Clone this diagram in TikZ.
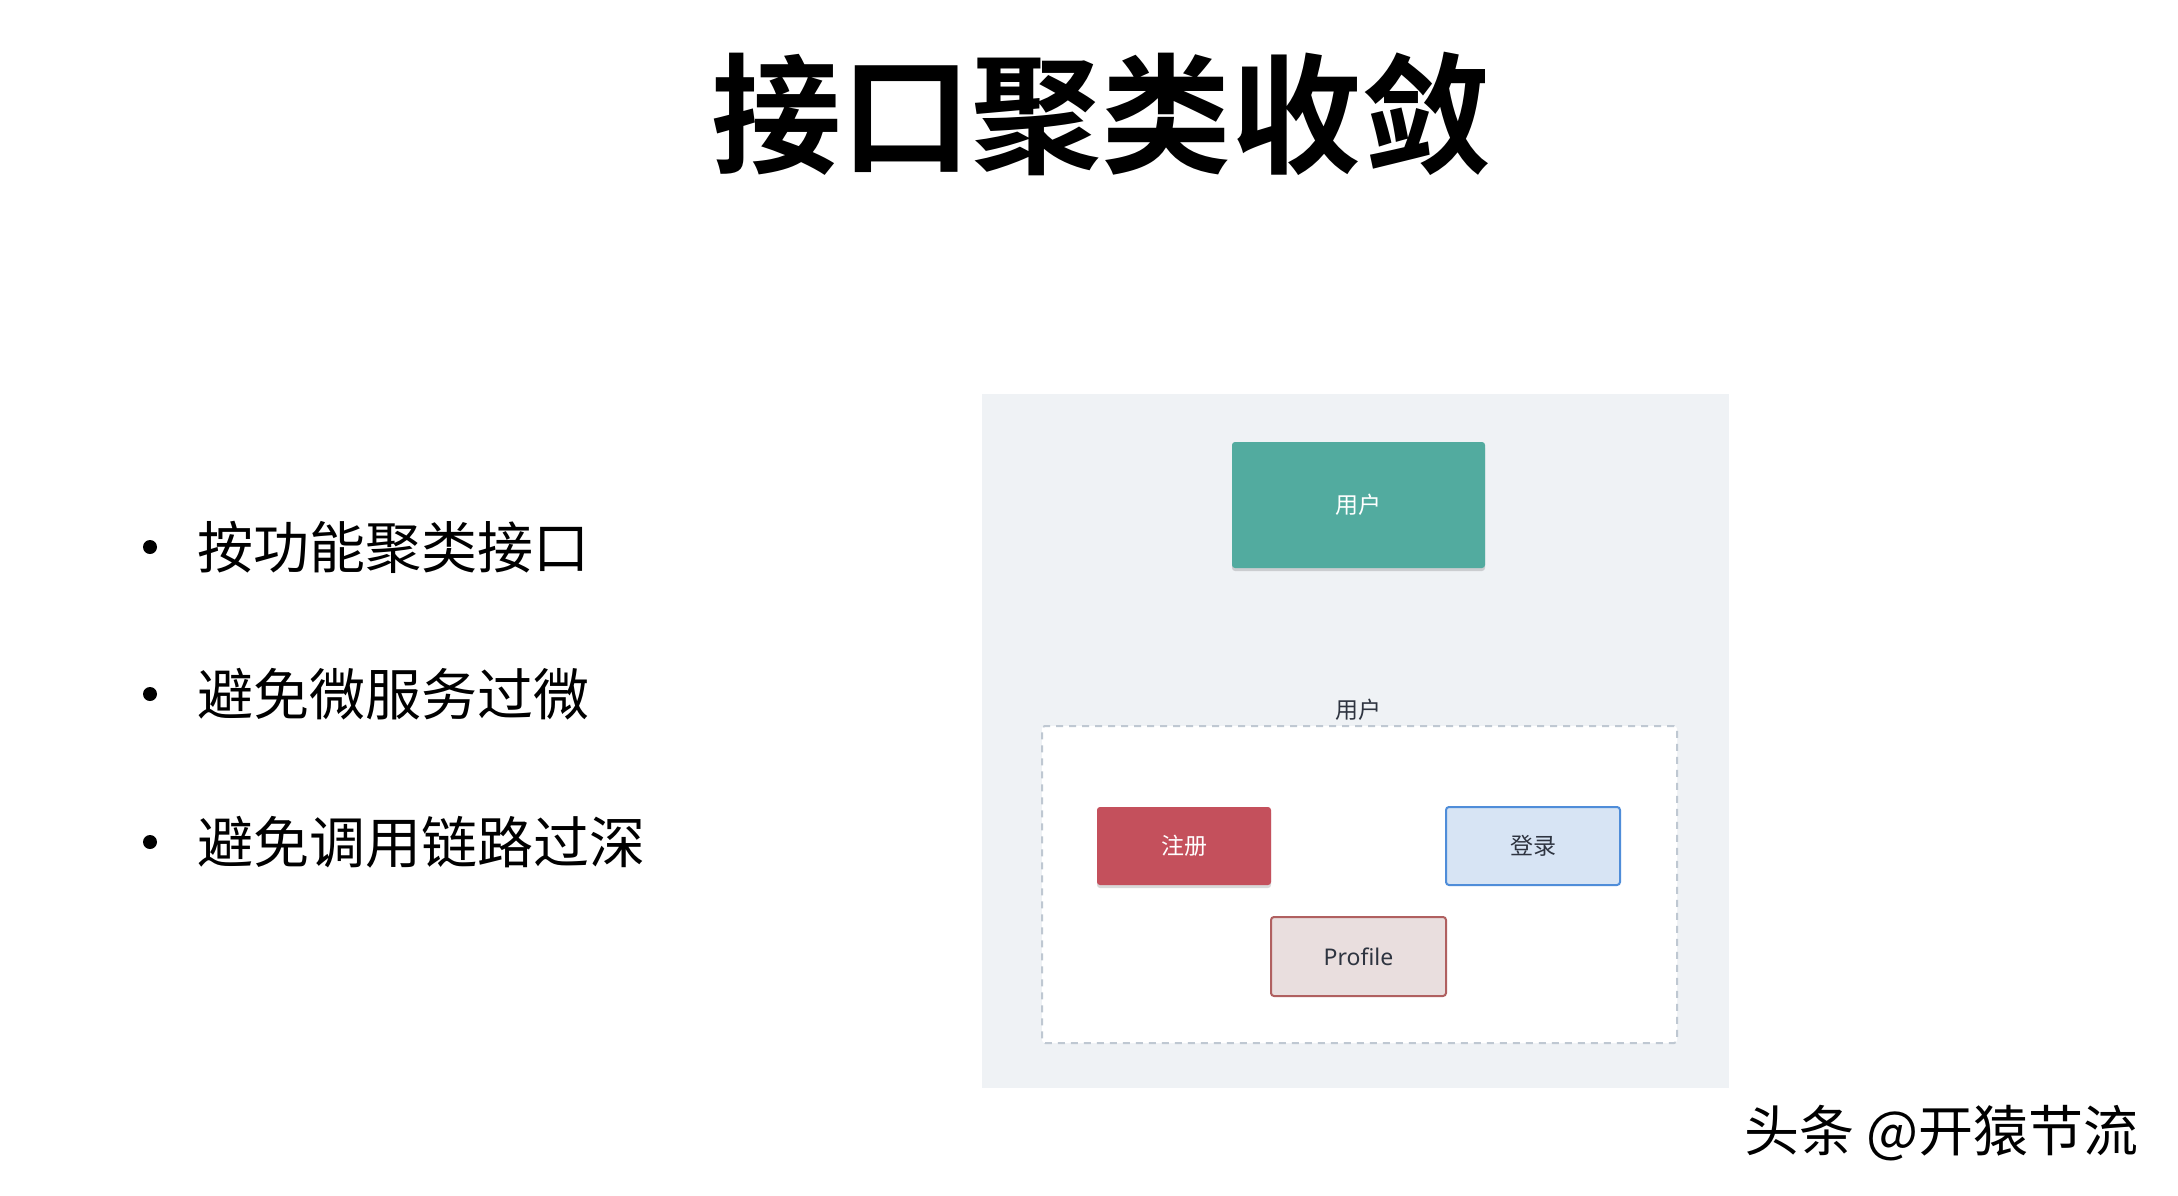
\documentclass[tikz,border=0pt]{standalone}
\usepackage{fontspec}
\setmainfont{Noto Sans}
\newfontfamily\cjk{Noto Sans CJK SC}
\newfontfamily\cjkb{Noto Sans CJK SC Bold}
\usetikzlibrary{shadows}
\definecolor{panelbg}{HTML}{EFF2F5}
\definecolor{dashcol}{HTML}{BFC8D2}
\definecolor{greenbox}{HTML}{52AB9F}
\definecolor{redbox}{HTML}{C4505C}
\definecolor{bluefill}{HTML}{D7E4F4}
\definecolor{blueline}{HTML}{4F8DD9}
\definecolor{proffill}{HTML}{E9DEDE}
\definecolor{profline}{HTML}{B06060}
\definecolor{darktext}{HTML}{2E3440}
\tikzset{
  boxbase/.style={rectangle, rounded corners=3pt, inner sep=0pt},
  smalltext/.style={font=\cjk\fontsize{23}{25}\selectfont},
  bulletdot/.style={circle, fill=black, inner sep=0pt, minimum size=14pt},
  bullettext/.style={anchor=west, font=\cjk\fontsize{56}{60}\selectfont, text=black, inner sep=0pt},
  softshadow/.style={drop shadow={shadow xshift=0pt, shadow yshift=-3pt, opacity=0.15, fill=black}}
}
\begin{document}
\begin{tikzpicture}[x=1pt,y=-1pt]
\useasboundingbox[fill=white] (0,0) rectangle (2178,1196);
% title
\node[font=\cjkb\fontsize{130}{140}\selectfont, inner sep=0pt] (title) at (1101,114) {接口聚类收敛};
% bullets
\node[bulletdot] (b1) at (150,547) {};
\node[bullettext] (t1) at (197,547) {按功能聚类接口};
\node[bulletdot] (b2) at (150,694) {};
\node[bullettext] (t2) at (197,694) {避免微服务过微};
\node[bulletdot] (b3) at (150,842) {};
\node[bullettext] (t3) at (197,842) {避免调用链路过深};
% panel
\node[rectangle, fill=panelbg, inner sep=0pt, minimum width=747pt, minimum height=694pt] (panel) at (1355.5,741) {};
% top box
\node[boxbase, fill=greenbox, softshadow, minimum width=253pt, minimum height=126pt, text=white, smalltext] (user) at (1358.5,505) {用户};
% group
\node[rectangle, rounded corners=3pt, fill=white, draw=dashcol, line width=2pt, dash pattern=on 7pt off 6pt, minimum width=635pt, minimum height=317pt] (group) at (1359.5,884.5) {};
\node[smalltext, text=darktext, inner sep=0pt] (glabel) at (1358,710) {用户};
% inner boxes
\node[boxbase, fill=redbox, softshadow, minimum width=174pt, minimum height=78pt, text=white, smalltext] (reg) at (1184,846) {注册};
\node[boxbase, fill=bluefill, draw=blueline, line width=2pt, minimum width=174pt, minimum height=78pt, text=darktext, smalltext] (login) at (1533,846) {登录};
\node[boxbase, fill=proffill, draw=profline, line width=2pt, minimum width=175pt, minimum height=79pt, text=darktext, font=\fontsize{23}{25}\selectfont] (prof) at (1358.5,956.5) {Profile};
% watermark
\node[font=\cjk\fontsize{55}{60}\selectfont, text=black, inner sep=0pt, anchor=west] (wm) at (1744,1133) {头条 @开猿节流};
\end{tikzpicture}
\end{document}
